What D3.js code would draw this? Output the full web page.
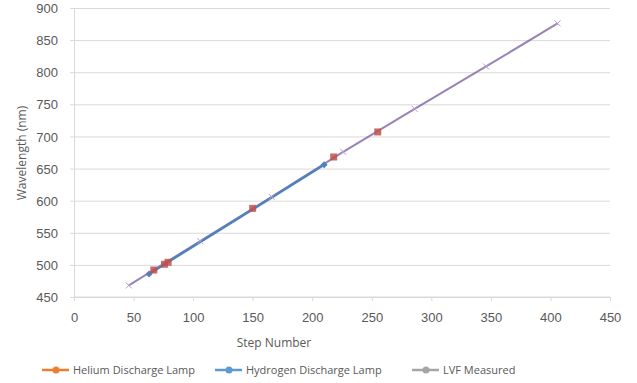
<html>
<head>
<meta charset="UTF-8"/>
<script src="https://d3js.org/d3.v7.min.js"></script>
<style>
body{ margin:0; background:#fff; }
svg{ font-family:'Open Sans', sans-serif; }
.grid line{ stroke:#d9d9d9; }
.grid path{ display:none; }
.axis text{ fill:#595959; font-size:13px; }
.axis path, .axis line{ stroke:#d9d9d9; }
</style>
</head>
<body>
<svg id='chart' width=637 height=383></svg>
<script>
'use strict';
// values
var heliumX = [67, 76, 79, 150, 218, 255];
var heliumY = [492, 501, 504, 588, 668, 707];
var hydrogenX = [63, 210];
var hydrogenY = [486, 656];
var lvfX = [46, 106, 166, 226, 286, 346, 406];
var lvfY = [468, 537, 606, 676, 743, 809, 876];
var xTicks = [0, 50, 100, 150, 200, 250, 300, 350, 400, 450];
var yTicks = [450, 500, 550, 600, 650, 700, 750, 800, 850, 900];
var seriesNames = ['Helium Discharge Lamp', 'Hydrogen Discharge Lamp', 'LVF Measured'];
var legendColors = ['#ed7d31', '#5b9bd5', '#a5a5a5'];

var svg = d3.select('#chart');
var sx = d3.scaleLinear().domain([0, 450]).range([74, 610]);
var sy = d3.scaleLinear().domain([450, 900]).range([297, 8]);

function pts(xs, ys){ return xs.map(function(x, i){ return [x, ys[i]]; }); }
var helium = pts(heliumX, heliumY), hydrogen = pts(hydrogenX, hydrogenY), lvf = pts(lvfX, lvfY);

// gridlines
svg.append('g').attr('class', 'grid')
    .attr('transform', 'translate(74,0)')
    .call(d3.axisLeft(sy).tickValues(yTicks).tickSize(-536).tickFormat(''));

// axes
var xAxis = svg.append('g').attr('class', 'axis')
    .attr('transform', 'translate(0,297)')
    .call(d3.axisBottom(sx).tickValues(xTicks).tickSize(4).tickPadding(12));
xAxis.select('.domain').attr('d', 'M74,0H610');
var yAxis = svg.append('g').attr('class', 'axis')
    .attr('transform', 'translate(74,0)')
    .call(d3.axisLeft(sy).tickValues(yTicks).tickSize(4).tickPadding(12));
yAxis.selectAll('.tick text').attr('dy', '0.35em');

svg.append('text').attr('x', 274).attr('y', 347).attr('text-anchor', 'middle')
    .attr('fill', '#595959').style('font-size', '12px').text('Step Number');
svg.append('text').attr('transform', 'translate(26,153) rotate(-90)').attr('text-anchor', 'middle')
    .attr('fill', '#595959').style('font-size', '12px').text('Wavelength (nm)');

// lines
var line = d3.line().x(function(d){ return sx(d[0]); }).y(function(d){ return sy(d[1]); });
svg.append('path').datum(lvf).attr('d', line).attr('fill', 'none')
    .attr('stroke', '#8064a2').attr('stroke-width', 2).attr('opacity', 0.8);
svg.append('path').datum(hydrogen).attr('d', line).attr('fill', 'none')
    .attr('stroke', '#4f81bd').attr('stroke-width', 2.5);

// markers
svg.selectAll('.lvf').data(lvf).enter().append('path').attr('class', 'lvf')
    .attr('transform', function(d){ return 'translate(' + sx(d[0]) + ',' + sy(d[1]) + ')'; })
    .attr('d', 'M-3,-3L3,3M-3,3L3,-3').attr('stroke', '#b3a2c7').attr('stroke-width', 1);
svg.selectAll('.hyd').data(hydrogen).enter().append('path').attr('class', 'hyd')
    .attr('transform', function(d){ return 'translate(' + sx(d[0]) + ',' + sy(d[1]) + ')'; })
    .attr('d', 'M0,-3.5L3.5,0L0,3.5L-3.5,0Z').attr('fill', '#4f81bd');
svg.selectAll('.hel').data(helium).enter().append('rect').attr('class', 'hel')
    .attr('x', function(d){ return sx(d[0]) - 3.5; }).attr('y', function(d){ return sy(d[1]) - 3.5; })
    .attr('width', 7).attr('height', 7).attr('fill', '#c0504d').attr('opacity', 0.85);

// legend
var legendX = [42, 215, 412];
var lg = svg.selectAll('.lg').data(seriesNames).enter().append('g').attr('class', 'lg')
    .attr('transform', function(d, i){ return 'translate(' + legendX[i] + ',370)'; });
lg.append('line').attr('x1', 0).attr('x2', 27).attr('y1', 0).attr('y2', 0)
    .attr('stroke', function(d, i){ return legendColors[i]; }).attr('stroke-width', 2.5);
lg.append('circle').attr('cx', 14).attr('cy', 0).attr('r', 3.5)
    .attr('fill', function(d, i){ return legendColors[i]; });
lg.append('text').attr('x', 31).attr('y', 0).attr('dy', '0.35em')
    .attr('fill', '#595959').style('font-size', '11px').text(function(d){ return d; });
</script>
</body>
</html>
